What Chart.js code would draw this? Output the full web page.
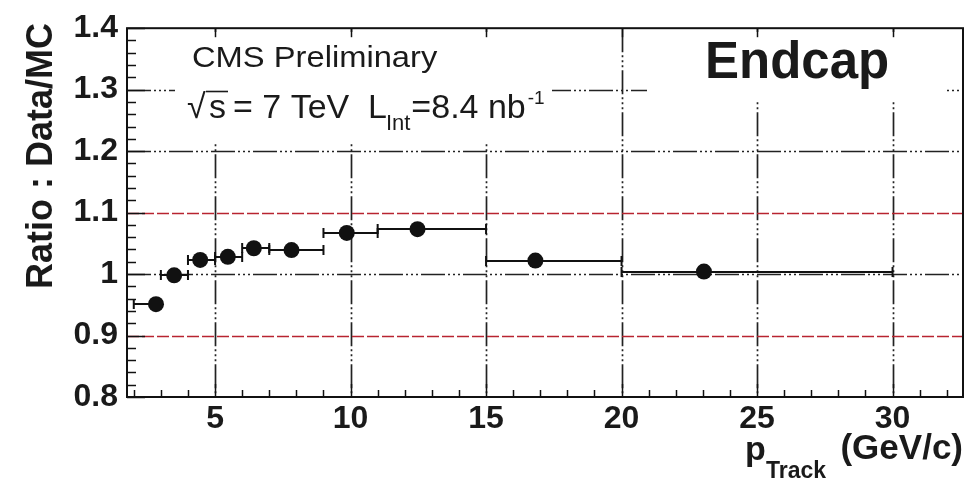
<!DOCTYPE html>
<html>
<head>
<meta charset="utf-8">
<script src="https://cdn.jsdelivr.net/npm/chart.js@4.4.0/dist/chart.umd.min.js"></script>
<style>
  html, body { margin: 0; padding: 0; background: #fff; }
  canvas { display: block; }
</style>
</head>
<body>
<canvas id="chart" width="971" height="487"></canvas>
<script>
// Ratio Data/MC vs track momentum (endcap)
const ptrack   = [2.82, 3.49, 4.45, 5.47, 6.43, 7.82, 9.86, 12.47, 16.82, 23.04];
const ratio    = [0.951, 0.998, 1.023, 1.028, 1.042, 1.039, 1.067, 1.073, 1.022, 1.004];
const binLow   = [2, 3, 4, 5, 6, 7, 9, 11, 15, 20];
const binHigh  = [3, 4, 5, 6, 7, 9, 11, 15, 20, 30];

const xTickVals = [5, 10, 15, 20, 25, 30];
const yTickVals = [0.8, 0.9, 1, 1.1, 1.2, 1.3, 1.4];
const gridY     = [1, 1.2, 1.3];
const redLinesY = [0.9, 1.1];

const FONT = '"Liberation Sans", Arial, Helvetica, sans-serif';
const INK = '#1a1a1a';

// draw text with an optional horizontal stretch
function putText(ctx, str, x, y, font, sx, align) {
    ctx.save();
    ctx.font = font;
    ctx.textAlign = align || 'left';
    ctx.textBaseline = 'alphabetic';
    ctx.translate(x, y);
    ctx.scale(sx || 1, 1);
    ctx.fillText(str, 0, 0);
    const w = ctx.measureText(str).width * (sx || 1);
    ctx.restore();
    return w;
}

const rootFrame = {
    id: 'rootFrame',
    beforeDatasetsDraw(chart) {
        const ctx = chart.ctx;
        const a = chart.chartArea;
        const xs = chart.scales.x, ys = chart.scales.y;

        // dash-dot grid
        ctx.save();
        ctx.strokeStyle = '#222';
        ctx.lineWidth = 1.7;
        ctx.setLineDash([24, 3, 2, 3, 2, 3, 2, 3]);
        xTickVals.forEach(v => {
            const px = Math.round(xs.getPixelForValue(v)) + 0.5;
            ctx.beginPath(); ctx.moveTo(px, a.top); ctx.lineTo(px, a.bottom); ctx.stroke();
        });
        gridY.forEach(v => {
            const py = Math.round(ys.getPixelForValue(v)) + 0.5;
            ctx.beginPath(); ctx.moveTo(a.left, py); ctx.lineTo(a.right, py); ctx.stroke();
        });
        // red reference lines
        ctx.strokeStyle = '#b82430';
        ctx.lineWidth = 1.7;
        ctx.setLineDash([12, 3]);
        redLinesY.forEach(v => {
            const py = Math.round(ys.getPixelForValue(v)) + 0.5;
            ctx.beginPath(); ctx.moveTo(a.left, py); ctx.lineTo(a.right, py); ctx.stroke();
        });
        ctx.restore();

        // text panes
        ctx.save();
        ctx.fillStyle = '#fff';
        ctx.fillRect(175, 32, 377, 111);
        ctx.fillRect(647, 32, 300, 68);
        ctx.fillStyle = INK;
        putText(ctx, 'CMS Preliminary', 192, 67, '30px ' + FONT, 1.09);

        // sqrt(s) = 7 TeV  L_int = 8.4 nb^-1
        const f2 = '34px ' + FONT;
        putText(ctx, '\u221A', 187, 118, f2, 1);
        ctx.save();
        ctx.strokeStyle = INK; ctx.lineWidth = 1.6;
        ctx.beginPath(); ctx.moveTo(206, 91.5); ctx.lineTo(228, 91.5); ctx.stroke();
        ctx.restore();
        putText(ctx, 's', 209, 118, f2, 1);
        putText(ctx, '= 7 TeV', 233, 118, f2, 1);
        let x = 368;
        x += putText(ctx, 'L', x, 118, f2, 1);
        x += putText(ctx, 'Int', x - 1, 130, '22px ' + FONT, 1);
        x += putText(ctx, '=8.4 nb', x, 118, f2, 1);
        putText(ctx, '-1', x + 2, 104, '19px ' + FONT, 1);

        putText(ctx, 'Endcap', 705, 78, 'bold 51px ' + FONT, 1);
        ctx.restore();

        // horizontal bin-width bars
        ctx.save();
        ctx.strokeStyle = '#111';
        ctx.lineWidth = 2;
        ptrack.forEach((_, i) => {
            const x0 = xs.getPixelForValue(binLow[i]);
            const x1 = xs.getPixelForValue(binHigh[i]);
            const py = Math.round(ys.getPixelForValue(ratio[i]));
            ctx.beginPath();
            ctx.moveTo(x0, py); ctx.lineTo(x1, py);
            ctx.moveTo(x0, py - 5); ctx.lineTo(x0, py + 5);
            ctx.moveTo(x1, py - 5); ctx.lineTo(x1, py + 5);
            ctx.stroke();
        });
        ctx.restore();
    },
    afterDraw(chart) {
        const ctx = chart.ctx;
        const a = chart.chartArea;
        const xs = chart.scales.x, ys = chart.scales.y;
        ctx.save();
        ctx.strokeStyle = '#111';
        ctx.lineWidth = 1.5;
        // y ticks every 0.02
        for (let k = 0; k <= 30; k++) {
            const py = Math.round(ys.getPixelForValue(0.8 + k * 0.02)) + 0.5;
            const len = k % 5 === 0 ? 18 : 9;
            ctx.beginPath(); ctx.moveTo(a.left, py); ctx.lineTo(a.left + len, py); ctx.stroke();
        }
        // x ticks every 1, major ticks on top edge
        for (let v = 2; v <= 32; v++) {
            const px = Math.round(xs.getPixelForValue(v)) + 0.5;
            const len = v % 5 === 0 ? 13 : 7;
            ctx.beginPath(); ctx.moveTo(px, a.bottom); ctx.lineTo(px, a.bottom - len); ctx.stroke();
            if (v % 5 === 0) {
                ctx.beginPath(); ctx.moveTo(px, a.top); ctx.lineTo(px, a.top + 9); ctx.stroke();
            }
        }
        // frame
        ctx.lineWidth = 2;
        ctx.strokeRect(a.left, a.top, a.right - a.left, a.bottom - a.top);
        ctx.restore();

        // axis titles
        ctx.save();
        ctx.fillStyle = INK;
        ctx.translate(52, 156);
        ctx.rotate(-Math.PI / 2);
        ctx.font = 'bold 36px ' + FONT;
        ctx.textAlign = 'center';
        ctx.fillText('Ratio : Data/MC', 0, 0);
        ctx.restore();

        ctx.save();
        ctx.fillStyle = INK;
        putText(ctx, 'p', 745, 460, 'bold 34px ' + FONT, 1);
        putText(ctx, 'Track', 766, 478, 'bold 23px ' + FONT, 1);
        putText(ctx, '(GeV/c)', 963, 459, 'bold 35px ' + FONT, 1, 'right');
        ctx.restore();
    }
};

const ctx = document.getElementById('chart').getContext('2d');
new Chart(ctx, {
    type: 'scatter',
    data: {
        datasets: [{
            data: ptrack.map((x, i) => ({ x: x, y: ratio[i] })),
            pointRadius: 8,
            pointHoverRadius: 8,
            pointBackgroundColor: '#111',
            pointBorderWidth: 0,
            showLine: false
        }]
    },
    options: {
        responsive: false,
        animation: false,
        devicePixelRatio: 1,
        events: [],
        layout: { padding: { top: 23, right: 6, left: 0, bottom: 0 } },
        plugins: { legend: { display: false }, tooltip: { enabled: false } },
        scales: {
            x: {
                type: 'linear',
                min: 1.75,
                max: 32.6,
                grid: { display: false, drawTicks: false },
                border: { display: false },
                afterBuildTicks: s => { s.ticks = xTickVals.map(v => ({ value: v })); },
                afterFit: s => { s.height = 90; },
                ticks: {
                    color: INK,
                    padding: 3,
                    maxRotation: 0,
                    autoSkip: false,
                    font: { family: FONT, size: 32, weight: 'bold' }
                }
            },
            y: {
                type: 'linear',
                min: 0.8,
                max: 1.4,
                grid: { display: false, drawTicks: false },
                border: { display: false },
                afterBuildTicks: s => { s.ticks = yTickVals.map(v => ({ value: v })); },
                afterFit: s => { s.width = 127; },
                ticks: {
                    color: INK,
                    padding: 9,
                    autoSkip: false,
                    font: { family: FONT, size: 32, weight: 'bold' },
                    callback: v => String(Math.round(v * 10) / 10)
                }
            }
        }
    },
    plugins: [rootFrame]
});
</script>
</body>
</html>
